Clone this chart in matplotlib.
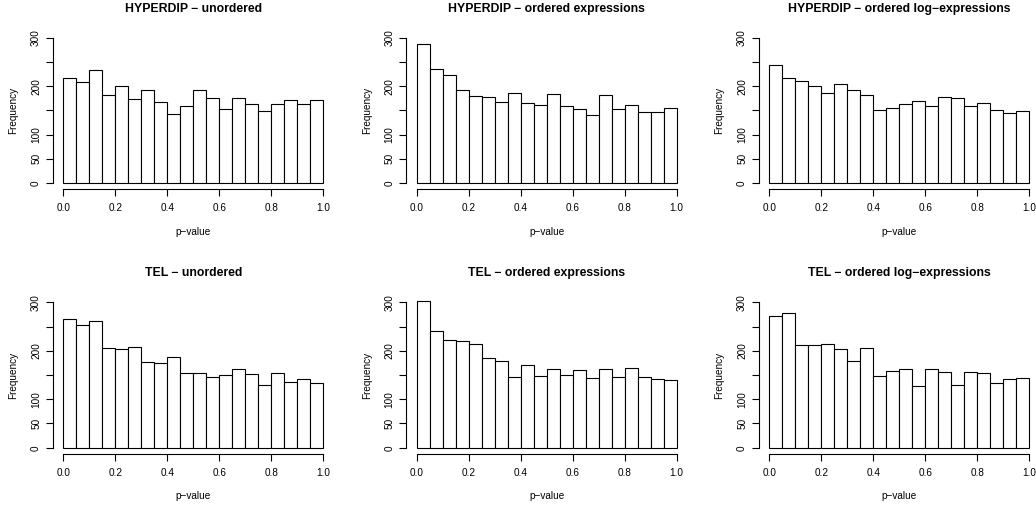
import numpy as np
import matplotlib.pyplot as plt

plt.rcParams['font.family'] = ['Liberation Sans', 'DejaVu Sans']

# p-value histograms, 20 bins of width 0.05 on [0, 1]
bin_edges = np.linspace(0, 1, 21)

hyperdip_unordered = [217, 209, 234, 182, 200, 173, 193, 168, 142, 158,
                      193, 175, 152, 175, 164, 149, 164, 172, 164, 172]
hyperdip_ordered = [286, 235, 222, 193, 180, 178, 168, 186, 166, 162,
                    183, 159, 153, 140, 181, 152, 162, 147, 147, 155]
hyperdip_log = [244, 217, 211, 200, 185, 205, 191, 182, 151, 154,
                164, 169, 160, 178, 176, 160, 165, 151, 145, 148]
tel_unordered = [266, 254, 261, 206, 203, 207, 176, 174, 188, 154,
                 155, 147, 151, 162, 152, 129, 155, 135, 142, 133]
tel_ordered = [303, 241, 223, 220, 214, 186, 178, 147, 171, 149,
               163, 151, 161, 143, 163, 147, 164, 145, 142, 140]
tel_log = [271, 278, 213, 213, 215, 204, 178, 205, 149, 158,
           163, 128, 163, 156, 129, 157, 155, 133, 141, 144]

titles = ['HYPERDIP \u2212 unordered', 'HYPERDIP \u2212 ordered expressions',
          'HYPERDIP \u2212 ordered log\u2212expressions',
          'TEL \u2212 unordered', 'TEL \u2212 ordered expressions',
          'TEL \u2212 ordered log\u2212expressions']
counts = [hyperdip_unordered, hyperdip_ordered, hyperdip_log,
          tel_unordered, tel_ordered, tel_log]

W, H = 1036, 509
fig = plt.figure(figsize=(W / 100, H / 100), dpi=100)

lefts = [52.9, 406.3, 758.9]
bottoms = [188.8, 453.5]
aw, ah = 280.8, 156.9

for i in range(6):
    r, c = divmod(i, 3)
    ax = fig.add_axes([lefts[c] / W, (H - bottoms[r]) / H, aw / W, ah / H])
    ax.bar(bin_edges[:-1], counts[i], width=np.diff(bin_edges), align='edge',
           color='white', edgecolor='black', linewidth=0.8)
    ax.set_xlim(-0.04, 1.04)
    ax.set_ylim(-12, 312)

    for s in ['top', 'right']:
        ax.spines[s].set_visible(False)
    ax.spines['left'].set_bounds(0, 300)
    ax.spines['bottom'].set_bounds(0, 1)
    for s in ['left', 'bottom']:
        ax.spines[s].set_linewidth(0.8)

    ax.set_xticks([0, 0.2, 0.4, 0.6, 0.8, 1.0])
    ax.set_xticklabels(['0.0', '0.2', '0.4', '0.6', '0.8', '1.0'])
    ax.set_yticks([0, 50, 100, 150, 200, 250, 300])
    ax.set_yticklabels(['0', '50', '100', '', '200', '', '300'],
                       rotation=90, va='center')
    ax.tick_params(axis='both', direction='out', length=5, width=0.8,
                   labelsize=7.2, color='black')
    ax.tick_params(axis='x', pad=5.5)
    ax.tick_params(axis='y', pad=3.5)

    ax.set_title(titles[i], fontsize=8.8, fontweight='bold', pad=14.5)
    ax.set_xlabel('p\u2212value', fontsize=7.2, labelpad=9.5)
    ax.set_ylabel('Frequency', fontsize=7.2, labelpad=9)

fig.savefig('out.png', dpi=100)
